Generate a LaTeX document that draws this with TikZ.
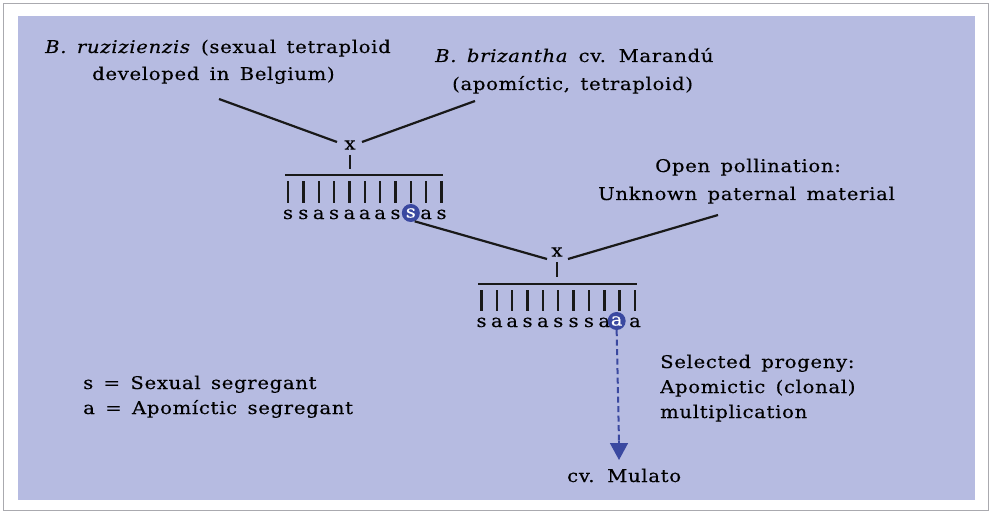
\documentclass[tikz,border=0pt]{standalone}
\usepackage{fontspec}
\setmainfont{DejaVu Serif}[FakeStretch=1.12, LetterSpace=4, WordSpace=1.5, FakeBold=0.3]
\usetikzlibrary{arrows.meta}
\definecolor{bg}{RGB}{182,187,225}
\definecolor{hl}{RGB}{58,72,160}
\definecolor{frame}{RGB}{170,170,175}
\begin{document}
\begin{tikzpicture}[x=1pt,y=-1pt,
  txt/.style={font=\fontsize{17.5}{20}\selectfont, anchor=base west, inner sep=0pt, text=black},
  lett/.style={font=\fontsize{17.5}{20}\selectfont, anchor=base, inner sep=0pt, text=black},
  hlnode/.style={circle, fill=hl, text=white, inner sep=0pt, minimum size=18pt, font=\fontsize{17.5}{20}\selectfont},
  ln/.style={line width=2.2pt, black!90},
  bar/.style={line width=2.4pt, black!90}]
\useasboundingbox (0,0) rectangle (992,513);
\draw[frame, line width=1pt] (3,4) rectangle (988,510);
\fill[bg] (18,16) rectangle (975,500);

% top labels
\node[txt] (ruz1) at (45,53) {\textit{B. ruzizienzis} (sexual tetraploid};
\node[txt] (ruz2) at (92,80) {developed in Belgium)};
\node[txt] (bri1) at (435,62) {\textit{B. brizantha} cv. Marandú};
\node[txt] (bri2) at (452,90) {(apomíctic, tetraploid)};

% first cross
\node[font=\fontsize{17.5}{20}\selectfont, inner sep=0pt] (x1) at (350,145) {x};
\coordinate (l1a) at (219,99);
\coordinate (l1b) at (337,142);
\coordinate (r1a) at (475,101);
\coordinate (r1b) at (362,142);
\draw[ln] (l1a) -- (l1b);
\draw[ln] (r1a) -- (r1b);
\coordinate (t1a) at (350,155);
\coordinate (t1b) at (350,169);
\draw[ln] (t1a) -- (t1b);
\coordinate (h1a) at (285,175);
\coordinate (h1b) at (443,175);
\draw[ln] (h1a) -- (h1b);
\foreach \l [count=\k] in {s,s,a,s,a,a,a,s,s,a,s} {
  \pgfmathsetmacro{\xx}{288+15.35*(\k-1)}
  \draw[bar] (\xx,181) -- (\xx,203);
  \ifnum\k=9
    \node[hlnode] (hs) at (\xx,213) {\l};
  \else
    \node[lett] (a\k) at (\xx,219) {\l};
  \fi
}

% open pollination
\node[txt] (op1) at (655,172) {Open pollination:};
\node[txt] (op2) at (598,200) {Unknown paternal material};

% second cross
\node[font=\fontsize{17.5}{20}\selectfont, inner sep=0pt] (x2) at (557,252) {x};
\coordinate (r2a) at (718,215);
\coordinate (r2b) at (568,259);
\coordinate (l2b) at (547,259);
\draw[ln] (hs.-65) -- (l2b);
\draw[ln] (r2a) -- (r2b);
\coordinate (t2a) at (557,262);
\coordinate (t2b) at (557,277);
\draw[ln] (t2a) -- (t2b);
\coordinate (h2a) at (478,284);
\coordinate (h2b) at (637,284);
\draw[ln] (h2a) -- (h2b);
\foreach \l [count=\k] in {s,a,a,s,a,s,s,s,a,a,a} {
  \pgfmathsetmacro{\xx}{481.5+15.35*(\k-1)}
  \draw[bar] (\xx,290) -- (\xx,311);
  \ifnum\k=10
    \node[hlnode] (ha) at (\xx-3,321) {\l};
  \else
    \node[lett] (b\k) at (\xx,327) {\l};
  \fi
}

% arrow to Mulato
\node[txt] (mul) at (567,482) {cv. Mulato};
\coordinate (arrtip) at (619,460);
\draw[hl, line width=2pt, dash pattern=on 6pt off 3.5pt] (ha.south) -- (619,442);
\draw[hl, line width=1.6pt, -{Triangle[width=18pt,length=17pt]}] (619,441) -- (arrtip);

% selected progeny
\node[txt] (sp1) at (660,368) {Selected progeny:};
\node[txt] (sp2) at (660,393) {Apomictic (clonal)};
\node[txt] (sp3) at (660,418) {multiplication};

% legend
\node[txt] (lg1) at (83,389) {s = Sexual segregant};
\node[txt] (lg2) at (83,414) {a = Apomíctic segregant};
\end{tikzpicture}
\end{document}
